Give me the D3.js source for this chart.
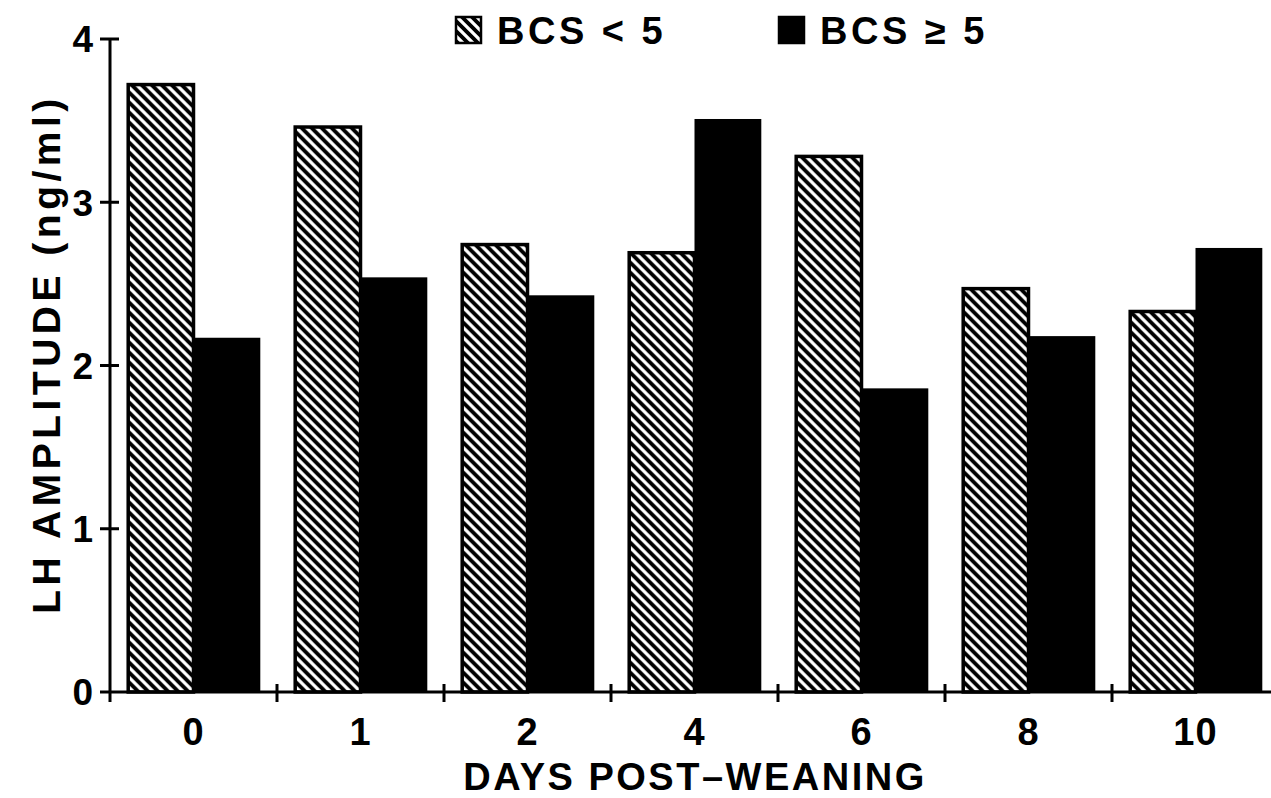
<!DOCTYPE html>
<html>
<head>
<meta charset="utf-8">
<script src="https://cdn.jsdelivr.net/npm/d3@7"></script>
<style>
  body { margin: 0; background: #fff; }
  text { font-family: "Liberation Sans", Arial, sans-serif; font-weight: bold; fill: #000; }
</style>
</head>
<body>
<div id="svg-area"></div>
<script>
var svgWidth = 1271;
var svgHeight = 798;

// chart values
var days = ["0", "1", "2", "4", "6", "8", "10"];
var bcsLow = [3.73, 3.47, 2.75, 2.70, 3.29, 2.48, 2.34];
var bcsHigh = [2.17, 2.54, 2.43, 3.51, 1.86, 2.18, 2.72];
var yTicks = [0, 1, 2, 3, 4];
var seriesNames = ["low", "high"];

var svg = d3.select("#svg-area")
  .append("svg")
  .attr("width", svgWidth)
  .attr("height", svgHeight);

// hatch pattern for BCS < 5
var defs = svg.append("defs");
var pat = defs.append("pattern")
  .attr("id", "hatch")
  .attr("patternUnits", "userSpaceOnUse")
  .attr("width", 10)
  .attr("height", 10);
pat.append("rect").attr("width", 10).attr("height", 10).attr("fill", "#fff");
pat.append("path")
  .attr("d", "M-5,5 L5,15 M0,0 L10,10 M5,-5 L15,5")
  .attr("stroke", "#000")
  .attr("stroke-width", 3.8);

var x0 = 110, yBase = 692;

var x = d3.scaleBand()
  .domain(days)
  .range([x0, x0 + 7 * 167])
  .paddingInner(0.2)
  .paddingOuter(0.1);

var xSub = d3.scaleBand()
  .domain(seriesNames)
  .range([0, x.bandwidth()]);

var y = d3.scaleLinear()
  .domain([0, 4])
  .range([yBase, 39]);

var rows = days.map(function(d, i) {
  return { day: d, low: bcsLow[i], high: bcsHigh[i] };
});

// bars
var groups = svg.selectAll(".grp")
  .data(rows)
  .enter().append("g")
  .attr("transform", function(d) { return "translate(" + x(d.day) + ",0)"; });

groups.append("rect")
  .attr("x", xSub("low") + 1.5)
  .attr("width", xSub.bandwidth() - 1.5)
  .attr("y", function(d) { return y(d.low) + 1.5; })
  .attr("height", function(d) { return yBase - y(d.low) - 1.5; })
  .attr("fill", "url(#hatch)")
  .attr("stroke", "#000")
  .attr("stroke-width", 3.5);

groups.append("rect")
  .attr("x", xSub("high"))
  .attr("width", xSub.bandwidth())
  .attr("y", function(d) { return y(d.high); })
  .attr("height", function(d) { return yBase - y(d.high); })
  .attr("fill", "#000");

// y axis
svg.append("line")
  .attr("x1", x0).attr("x2", x0)
  .attr("y1", y(4)).attr("y2", yBase + 10)
  .attr("stroke", "#000").attr("stroke-width", 3);

svg.selectAll(".ytick")
  .data(yTicks)
  .enter().append("line")
  .attr("x1", x0 - 10)
  .attr("x2", function(d) { return d === 0 ? x0 : x0 + 9; })
  .attr("y1", function(d) { return y(d); })
  .attr("y2", function(d) { return y(d); })
  .attr("stroke", "#000").attr("stroke-width", 3);

svg.selectAll(".ylab")
  .data(yTicks)
  .enter().append("text")
  .attr("x", x0 - 17)
  .attr("y", function(d) { return y(d); })
  .attr("dy", "0.36em")
  .attr("text-anchor", "end")
  .attr("font-size", 37)
  .text(function(d) { return d; });

// x axis
svg.append("line")
  .attr("x1", x0).attr("x2", svgWidth)
  .attr("y1", yBase).attr("y2", yBase)
  .attr("stroke", "#000").attr("stroke-width", 3);

var step = x.step();
svg.selectAll(".xtick")
  .data(days.slice(1))
  .enter().append("line")
  .attr("x1", function(d) { return x(d) - step * 0.1; })
  .attr("x2", function(d) { return x(d) - step * 0.1; })
  .attr("y1", yBase - 8)
  .attr("y2", yBase + 10)
  .attr("stroke", "#000").attr("stroke-width", 3);

svg.selectAll(".xlab")
  .data(days)
  .enter().append("text")
  .attr("x", function(d) { return x(d) + x.bandwidth() / 2; })
  .attr("y", 745)
  .attr("text-anchor", "middle")
  .attr("font-size", 38)
  .attr("letter-spacing", 1)
  .text(function(d) { return d; });

// axis titles
svg.append("text")
  .attr("x", 695)
  .attr("y", 790)
  .attr("text-anchor", "middle")
  .attr("font-size", 38)
  .attr("letter-spacing", 2.5)
  .text("DAYS POST\u2013WEANING");

svg.append("text")
  .attr("transform", "translate(60,354) rotate(-90)")
  .attr("text-anchor", "middle")
  .attr("font-size", 39)
  .attr("letter-spacing", 4.5)
  .text("LH AMPLITUDE (ng/ml)");

// legend
var legend = [
  { fill: "url(#hatch)", label: "BCS < 5", x: 455 },
  { fill: "#000", label: "BCS \u2265 5", x: 778 }
];
var lg = svg.selectAll(".lg")
  .data(legend)
  .enter().append("g")
  .attr("transform", function(d) { return "translate(" + d.x + ",0)"; });
lg.append("rect")
  .attr("x", 1).attr("y", 17)
  .attr("width", 25).attr("height", 26)
  .attr("fill", function(d) { return d.fill; })
  .attr("stroke", "#000").attr("stroke-width", 2.5);
lg.append("text")
  .attr("x", 42).attr("y", 44)
  .attr("font-size", 38)
  .attr("letter-spacing", 3.5)
  .attr("xml:space", "preserve")
  .text(function(d) { return d.label; });
</script>
</body>
</html>
